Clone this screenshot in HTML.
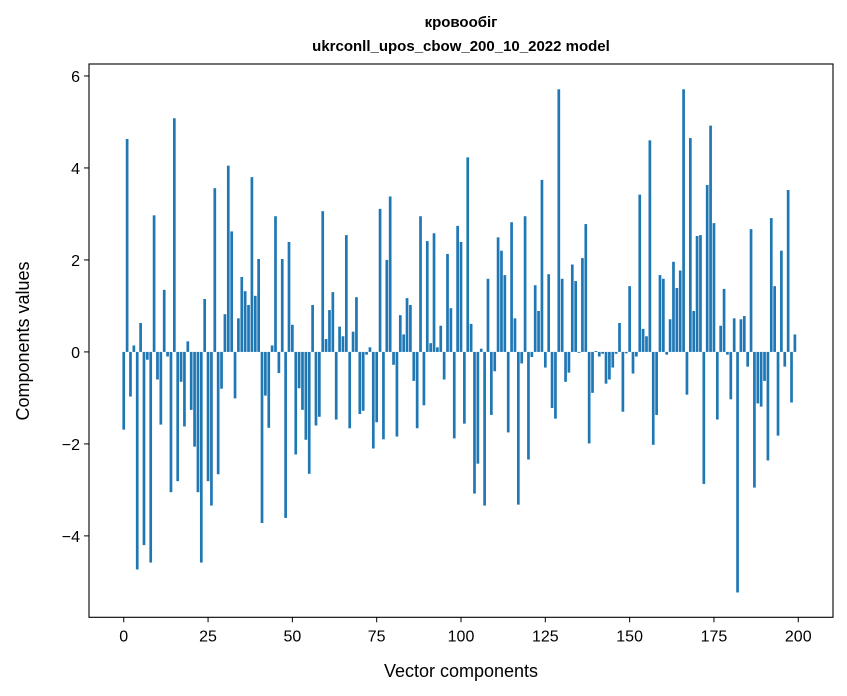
<!DOCTYPE html>
<html><head><meta charset="utf-8"><style>
body{margin:0;background:#fff;}
svg{display:block;font-family:"Liberation Sans","DejaVu Sans",sans-serif;}
</style></head><body>
<svg id="chart" width="847" height="696">
<text x="461" y="27" text-anchor="middle" font-size="15" font-weight="bold">кровообіг</text>
<text x="461" y="51" text-anchor="middle" font-size="15" font-weight="bold">ukrconll_upos_cbow_200_10_2022 model</text>
<text x="461" y="677" text-anchor="middle" font-size="18">Vector components</text>
<text x="0" y="0" transform="translate(29,341) rotate(-90)" text-anchor="middle" font-size="18">Components values</text>
<g id="bars"></g>
<g id="axes"></g>
</svg>
<script>
const values = [-1.69,4.63,-0.97,0.14,-4.73,0.63,-4.2,-0.17,-4.58,2.97,-0.6,-1.58,1.35,-0.1,-3.05,5.08,-2.81,-0.65,-1.62,0.23,-1.26,-2.06,-3.05,-4.58,1.15,
-2.81,-3.34,3.56,-2.66,-0.8,0.82,4.05,2.62,-1.01,0.73,1.63,1.32,1.02,3.8,1.22,2.02,-3.72,-0.95,-1.65,0.14,2.95,-0.46,2.02,-3.61,2.39,
0.59,-2.23,-0.79,-1.26,-1.91,-2.65,1.02,-1.6,-1.41,3.06,0.28,0.91,1.3,-1.47,0.55,0.34,2.54,-1.66,0.44,1.19,-1.35,-1.28,-0.06,0.1,-2.1,
-1.53,3.11,-1.9,2.0,3.38,-0.28,-1.84,0.8,0.38,1.17,1.02,-0.63,-1.66,2.95,-1.16,2.41,0.19,2.58,0.1,0.57,-0.6,2.13,0.95,-1.88,2.74,
2.39,-1.56,4.23,0.61,-3.08,-2.43,0.07,-3.34,1.59,-1.37,-0.42,2.49,2.2,1.67,-1.75,2.82,0.73,-3.32,-0.25,2.95,-2.34,-0.11,1.45,0.89,3.74,
-0.34,1.69,-1.22,-1.45,5.71,1.59,-0.65,-0.45,1.9,1.54,-0.02,2.04,2.78,-1.99,-0.89,0.02,-0.1,-0.04,-0.69,-0.6,-0.34,-0.04,0.63,-1.3,-0.03,
1.43,-0.47,-0.1,3.42,0.5,0.34,4.6,-2.02,-1.37,1.67,1.59,-0.06,0.71,1.96,1.39,1.77,5.71,-0.93,4.65,0.89,2.52,2.54,-2.87,3.63,4.92,
2.8,-1.47,0.57,1.37,-0.06,-1.03,0.73,-5.23,0.71,0.78,-0.32,2.67,-2.95,-1.12,-1.19,-0.63,-2.36,2.91,1.43,-1.82,2.2,-0.32,3.52,-1.1,0.38];
const xTicks = [0,25,50,75,100,125,150,175,200];
const yTicks = [-4,-2,0,2,4,6];
const yTickLabels = ["\u22124","\u22122","0","2","4","6"];
const L=89,R=833,T=64,B=617.3;
const xMin=-10.3,xMax=210.3,yMin=-5.77,yMax=6.26;
const sx=v=>L+(v-xMin)/(xMax-xMin)*(R-L);
const sy=v=>B-(v-yMin)/(yMax-yMin)*(B-T);
const NS="http://www.w3.org/2000/svg";
const bars=document.getElementById('bars');
const axes=document.getElementById('axes');
function mk(tag,attrs,parent){const e=document.createElementNS(NS,tag);for(const k in attrs)e.setAttribute(k,attrs[k]);parent.appendChild(e);return e;}
values.forEach((v,i)=>{
  const x0=sx(i-0.4),x1=sx(i+0.4);
  const y0=sy(Math.max(v,0)),y1=sy(Math.min(v,0));
  const r=mk('rect',{x:x0,y:y0,width:x1-x0,height:Math.max(y1-y0,0.3),fill:'#1f77b4'},bars);
  
  
});
const frame=mk('rect',{x:L,y:T,width:R-L,height:B-T,fill:'none',stroke:'#000','stroke-width':1.1},axes);


xTicks.forEach(t=>{
  const x=sx(t);
  const tk=mk('line',{x1:x,x2:x,y1:B,y2:B+5,stroke:'#000','stroke-width':1},axes);
  
  
  const tx=mk('text',{x:x,y:B+24,'text-anchor':'middle','font-size':16},axes);
  tx.textContent=t;
  
  
});
yTicks.forEach((t,i)=>{
  const y=sy(t);
  const tk=mk('line',{x1:L-5,x2:L,y1:y,y2:y,stroke:'#000','stroke-width':1},axes);
  
  
  const tx=mk('text',{x:L-9,y:y+6,'text-anchor':'end','font-size':16},axes);
  tx.textContent=yTickLabels[i];
  
  
});
</script>
</body></html>
